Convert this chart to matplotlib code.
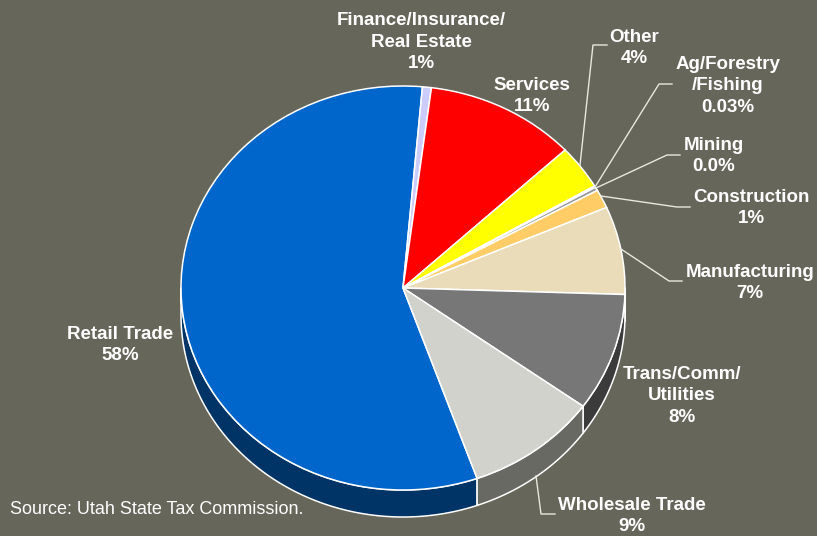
"""Utah sales by sector, tilted pie with leader lines."""
import numpy as np
import matplotlib
matplotlib.use("Agg")
import matplotlib.pyplot as plt
from matplotlib.patches import Polygon

W, H = 817, 536
CX, CY, RX, RY, DEPTH = 403, 288, 222, 202, 27

sectors = ["Retail Trade", "Finance", "Services", "Other", "Ag", "Mining",
           "Construction", "Manufacturing", "Trans", "Wholesale"]
# slice sizes as measured on the picture (labels round differently)
shares = [56.9, 0.65, 11.0, 3.55, 0.12, 0.28, 1.5, 7.05, 9.45, 9.65]
top_colors = ["#0066CC", "#CCCCFF", "#FF0000", "#FFFF00", "#3366CC", "#969696",
              "#FFCC66", "#EADCB8", "#777777", "#D2D2CC"]
side_colors = ["#003366", "#666680", "#800000", "#808000", "#1A3366", "#4B4B4B",
               "#806633", "#756E5C", "#3B3B3B", "#696963"]
START = -70.5

labels = [
    ("Finance/Insurance/\nReal Estate\n1%", 421, 41),
    ("Services\n11%", 532, 95),
    ("Other\n4%", 634, 47),
    ("Ag/Forestry\n/Fishing\n0.03%", 728, 85),
    ("Mining\n0.0%", 714, 155),
    ("Construction\n1%", 751, 207),
    ("Manufacturing\n7%", 750, 282),
    ("Trans/Comm/\nUtilities\n8%", 682, 395),
    ("Wholesale Trade\n9%", 632, 515),
    ("Retail Trade\n58%", 120, 344),
]
leaders = [
    ([580, 593, 607], [165, 45, 45]),
    ([595, 659, 672], [187, 84, 84]),
    ([596, 667, 680], [188, 155, 155]),
    ([601, 677, 690], [196, 207, 207]),
    ([621, 669, 682], [249, 281, 281]),
    ([536, 541, 555], [476, 514, 514]),
]


def to_ax(px, py):
    return (np.asarray(px, float) - CX) / RX, (CY - np.asarray(py, float)) / RY


plt.rcParams["font.family"] = ["Liberation Sans", "DejaVu Sans"]
fig = plt.figure(figsize=(W / 100, H / 100), dpi=100, facecolor="#66665A")
ax = fig.add_axes([0, 0, 1, 1])

# side wall: only the part of each slice on the lower half shows
drop = DEPTH / RY
edges = START - 360 * np.cumsum([0] + shares) / sum(shares)
for i in range(len(shares)):
    a1, a0 = edges[i], edges[i + 1]
    for k in (-2, -1, 0):
        lo = max(a0, 180 + 360 * k)
        hi = min(a1, 360 + 360 * k)
        if hi <= lo:
            continue
        t = np.radians(np.linspace(lo, hi, 120))
        xs = np.r_[np.cos(t), np.cos(t[::-1])]
        ys = np.r_[np.sin(t), np.sin(t[::-1]) - drop]
        ax.add_patch(Polygon(np.c_[xs, ys], facecolor=side_colors[i],
                             edgecolor="white", linewidth=1.1, joinstyle="round"))

ax.pie(shares, colors=top_colors, startangle=START, counterclock=False,
       radius=1, wedgeprops={"edgecolor": "white", "linewidth": 1.1})
ax.set_aspect("auto")
ax.set_xlim(-CX / RX, (W - CX) / RX)
ax.set_ylim((CY - H) / RY, CY / RY)
ax.axis("off")

for px, py in leaders:
    lx, ly = to_ax(px, py)
    ax.plot(lx, ly, color="#E8E8E0", linewidth=1.0, clip_on=False)

for text, px, py in labels:
    fig.text(px / W, 1 - (py + 1) / H, text, color="white", fontsize=13.5,
             fontweight="bold", ha="center", va="center", linespacing=1.38)
fig.text(10 / W, 1 - 510 / H, "Source: Utah State Tax Commission.",
         color="white", fontsize=13, ha="left", va="center")

fig.savefig("out.png", dpi=100, facecolor=fig.get_facecolor())
